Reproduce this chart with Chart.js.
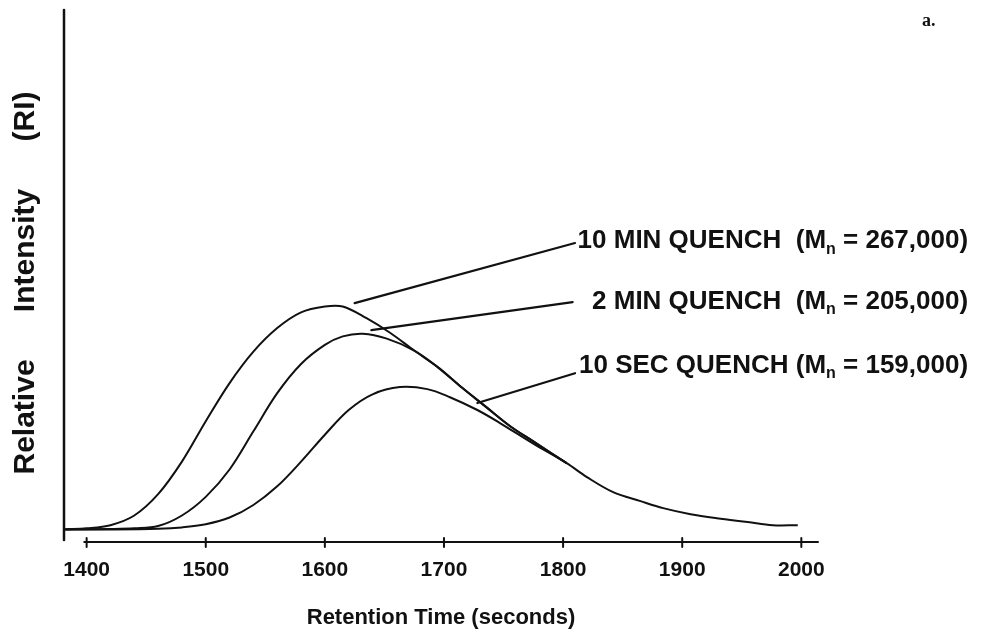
<!DOCTYPE html>
<html>
<head>
<meta charset="utf-8">
<title>GPC traces - quench time</title>
<script src="https://cdn.jsdelivr.net/npm/chart.js@4/dist/chart.umd.min.js"></script>
<style>
  html, body { margin: 0; padding: 0; background: #fff; }
  #wrap { width: 984px; height: 635px; }
</style>
</head>
<body>
<div id="wrap"><canvas id="gpcChart" width="984" height="635"></canvas></div>
<script>
// retention time (s) / relative intensity for each quench time
const min10Time = [1382, 1400, 1420, 1440, 1460, 1480, 1500, 1520, 1540, 1560, 1580, 1600, 1615, 1635, 1655, 1675, 1695, 1715, 1735, 1755, 1775, 1803];
const min10RI   = [0.4, 0.8, 2.2, 6.5, 16, 30.5, 48.5, 65.5, 79.5, 90, 97, 99.6, 99.6, 94.4, 87.8, 80, 72.5, 63.5, 55, 46.5, 39.5, 29.8];

const min2Time = [1382, 1420, 1440, 1460, 1480, 1500, 1520, 1540, 1560, 1580, 1600, 1615, 1632, 1652, 1675, 1695, 1715, 1735, 1755, 1775, 1803];
const min2RI   = [0.3, 0.5, 0.8, 1.8, 6.5, 14.8, 27, 44, 61, 74, 82.5, 86.3, 87.5, 85.3, 80, 72.5, 63.5, 55, 46.5, 39.5, 29.8];

const sec10Time = [1382, 1420, 1460, 1480, 1500, 1520, 1540, 1560, 1580, 1600, 1620, 1640, 1663, 1686, 1705, 1728, 1747, 1775, 1803, 1820, 1842, 1865, 1884, 1907, 1929, 1955, 1976, 1997];
const sec10RI   = [0.3, 0.3, 0.6, 1.2, 2.6, 5.6, 11.2, 19.5, 30.5, 42.5, 53.5, 60.5, 63.7, 62.8, 59.2, 53.5, 47.7, 38.5, 29.8, 23.6, 16.9, 12.9, 9.8, 7.1, 5.3, 3.6, 2.2, 2.2];

const xTicks = [1400, 1500, 1600, 1700, 1800, 1900, 2000];

const seriesNames = ["10 MIN QUENCH", "2 MIN QUENCH", "10 SEC QUENCH"];
const mnValues = ["267,000", "205,000", "159,000"];
const yTitleWords = ["Relative", "Intensity", "(RI)"];

const ink = "#111";
const sans = '"Liberation Sans", Arial, Helvetica, sans-serif';

function toPoints(xs, ys) {
    return xs.map((x, i) => ({ x: x, y: ys[i] }));
}

function trace(label, xs, ys) {
    return {
        label: label,
        data: toPoints(xs, ys),
        borderColor: ink,
        borderWidth: 2,
        pointRadius: 0,
        fill: false,
        tension: 0.35
    };
}

// axis lines, tick marks, callouts, the y title and the panel letter
const decorations = {
    id: "decorations",
    afterDatasetsDraw(chart) {
        const ctx = chart.ctx;
        const area = chart.chartArea;
        const xs = chart.scales.x;
        const ys = chart.scales.y;

        ctx.save();
        ctx.strokeStyle = ink;
        ctx.fillStyle = ink;
        ctx.lineCap = "round";

        // y axis
        ctx.lineWidth = 2.5;
        ctx.beginPath();
        ctx.moveTo(area.left, area.top);
        ctx.lineTo(area.left, area.bottom - 2);
        ctx.stroke();

        // x axis with its ticks
        ctx.lineWidth = 2;
        ctx.beginPath();
        ctx.moveTo(xs.getPixelForValue(1398), area.bottom);
        ctx.lineTo(area.right, area.bottom);
        ctx.stroke();
        xTicks.forEach(t => {
            const px = xs.getPixelForValue(t);
            ctx.beginPath();
            ctx.moveTo(px, area.bottom - 4);
            ctx.lineTo(px, area.bottom + 5);
            ctx.stroke();
        });

        // leader lines from each trace to its label
        const callouts = [
            { from: [1625, 101.1], to: [1810, 127.9], textY: 128.7 },
            { from: [1639, 89.1],  to: [1808, 101.6], textY: 101.6 },
            { from: [1728, 56.6],  to: [1810, 69.9],  textY: 73.1 }
        ];
        ctx.lineWidth = 2.2;
        callouts.forEach(c => {
            ctx.beginPath();
            ctx.moveTo(xs.getPixelForValue(c.from[0]), ys.getPixelForValue(c.from[1]));
            ctx.lineTo(xs.getPixelForValue(c.to[0]), ys.getPixelForValue(c.to[1]));
            ctx.stroke();
        });

        // labels, right aligned, with subscript n
        const mainFont = "bold 26px " + sans;
        const subFont = "bold 16px " + sans;
        const rightEdge = xs.getPixelForValue(2140);
        ctx.textBaseline = "middle";
        ctx.textAlign = "left";
        callouts.forEach((c, i) => {
            const head = seriesNames[i] + (i === 2 ? " (M" : "  (M");
            const tail = " = " + mnValues[i] + ")";
            ctx.font = mainFont;
            const w1 = ctx.measureText(head).width;
            const w3 = ctx.measureText(tail).width;
            ctx.font = subFont;
            const w2 = ctx.measureText("n").width;
            const y = ys.getPixelForValue(c.textY);
            let x = rightEdge - (w1 + w2 + w3);
            ctx.font = mainFont;
            ctx.fillText(head, x, y);
            x += w1;
            ctx.font = subFont;
            ctx.fillText("n", x, y + 8);
            x += w2;
            ctx.font = mainFont;
            ctx.fillText(tail, x, y);
        });

        // y axis title, words spread along the axis
        const titleLen = 383;
        ctx.save();
        ctx.translate(26, 283);
        ctx.rotate(-Math.PI / 2);
        ctx.font = "bold 30px " + sans;
        const wFirst = ctx.measureText(yTitleWords[0]).width;
        const wLast = ctx.measureText(yTitleWords[2]).width;
        const wMid = ctx.measureText(yTitleWords[1]).width;
        ctx.fillText(yTitleWords[0], -titleLen / 2, 0);
        ctx.fillText(yTitleWords[2], titleLen / 2 - wLast, 0);
        const gapMid = (-titleLen / 2 + wFirst + titleLen / 2 - wLast) / 2;
        ctx.fillText(yTitleWords[1], gapMid - wMid / 2, 0);
        ctx.restore();

        // panel letter
        ctx.font = 'bold 18px "Liberation Serif", "Times New Roman", serif';
        ctx.fillText("a.", 922, 21);

        ctx.restore();
    }
};

new Chart(document.getElementById("gpcChart"), {
    type: "line",
    data: {
        datasets: [
            trace(seriesNames[0], min10Time, min10RI),
            trace(seriesNames[1], min2Time, min2RI),
            trace(seriesNames[2], sec10Time, sec10RI)
        ]
    },
    options: {
        responsive: false,
        animation: false,
        devicePixelRatio: 1,
        layout: { padding: { top: 10, right: 166, left: 0, bottom: 0 } },
        plugins: {
            legend: { display: false },
            tooltip: { enabled: false }
        },
        scales: {
            x: {
                type: "linear",
                min: 1381,
                max: 2014,
                afterBuildTicks: scale => { scale.ticks = xTicks.map(v => ({ value: v })); },
                afterFit: scale => { scale.height = 93; },
                grid: { display: false, drawTicks: false },
                border: { display: false },
                ticks: {
                    color: ink,
                    padding: 16,
                    maxRotation: 0,
                    autoSkip: false,
                    callback: v => String(v),
                    font: { family: sans, size: 21, weight: "bold" }
                },
                title: {
                    display: true,
                    text: "Retention Time (seconds)",
                    color: ink,
                    font: { family: sans, size: 22, weight: "bold" },
                    padding: { top: 0, bottom: 4 }
                }
            },
            y: {
                min: -5.3,
                max: 231.7,
                afterFit: scale => { scale.width = 64; },
                grid: { display: false, drawTicks: false },
                border: { display: false },
                ticks: { display: false }
            }
        }
    },
    plugins: [decorations]
});
</script>
</body>
</html>
